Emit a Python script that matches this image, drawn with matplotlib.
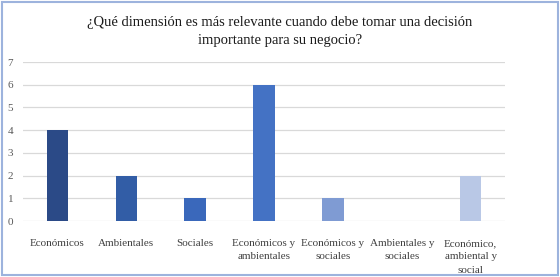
import matplotlib.pyplot as plt
from matplotlib.patches import Rectangle

# Data
categories = ["Económicos", "Ambientales", "Sociales", "Económicos y\nambientales",
              "Económicos y\nsociales", "Ambientales y\nsociales", "Económico,\nambiental y\nsocial"]
values = [4, 2, 1, 6, 1, 0, 2]
colors = ["#2B4A87", "#325DA6", "#3A68BB", "#4472C4", "#7F9BD3", "#9DB3E0", "#B9C8E6"]

plt.rcParams['font.family'] = ['Liberation Serif', 'DejaVu Serif']

fig = plt.figure(figsize=(5.6, 2.77), dpi=100)
ax = fig.add_axes([0.041, 0.202, 0.861, 0.574])

x = range(len(categories))
ax.bar(x, values, width=0.31, color=colors, zorder=3)

ax.set_ylim(0, 7)
ax.set_xlim(-0.5, len(categories) - 0.5)
ax.set_yticks(range(0, 8))
ax.set_xticks(list(x))
ax.set_xticklabels(categories, fontsize=8, color="#404040", linespacing=1.6)
ax.tick_params(axis='y', labelsize=8, labelcolor="#595959", length=0, pad=7)
ax.tick_params(axis='x', length=0, pad=13)
ax.grid(axis='y', color="#D9D9D9", linewidth=0.9, zorder=0)
for s in ax.spines.values():
    s.set_visible(False)

fig.text(0.5, 0.887, "¿Qué dimensión es más relevante cuando debe tomar una decisión\nimportante para su negocio?",
         ha='center', va='center', fontsize=10.5, color="#1a1a1a", linespacing=1.45)

# light blue frame around the whole chart
fig.patches.append(Rectangle((0.004, 0.007), 0.992, 0.986, transform=fig.transFigure,
                             fill=False, edgecolor="#9DB3DD", linewidth=1.5))

fig.savefig("out.png", dpi=100)
